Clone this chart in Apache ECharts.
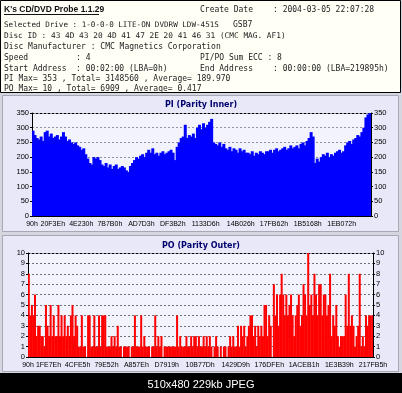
<!DOCTYPE html>
<html><head><meta charset="utf-8">
<script src="https://cdn.jsdelivr.net/npm/echarts@6/dist/echarts.min.js"></script>
<style>html,body{margin:0;padding:0;background:#000}#c{width:402px;height:393px}</style>
</head><body><div id="c"></div>
<script>
// ---- Data ----
const PI_VALUES = [290,275,265,260,270,255,285,290,270,280,265,270,275,260,270,285,270,255,260,250,
245,250,240,235,225,230,210,195,180,175,200,195,200,190,175,170,180,165,175,160,
170,175,160,165,170,165,155,150,170,180,190,200,195,205,210,200,215,225,215,230,
210,215,205,215,220,210,215,220,225,215,190,235,250,265,270,310,265,275,270,280,
265,300,310,295,315,300,310,320,330,250,245,240,250,235,245,230,225,235,220,230,
225,215,230,220,225,215,215,210,220,205,215,210,220,215,210,220,220,225,215,225,
230,220,225,230,235,225,230,240,230,235,240,230,245,250,240,255,265,285,270,180,
195,185,200,210,205,215,200,210,205,215,220,225,215,220,240,250,255,245,260,265,
275,270,285,300,335,345,353];
// LBA tick labels (hex) and the LBA at the right end of the axis
const PI_TICKS = ['90','20F3E','4E230','7B7B0','AD7D3','DF3B2','1133D6','14B026','17FB62','1B5168','1EB072'];
const PI_LBA_END = '219895';
const PI_Y = {min:0, max:350, interval:50};

const PO_VALUES = [8,4,5,4,6,2,3,3,2,2,1,5,3,2,5,2,4,2,2,5,
2,4,2,4,2,3,2,4,5,2,4,3,1,1,4,1,1,0,4,4,
1,1,4,1,1,4,1,4,4,4,1,1,1,2,1,2,1,3,1,1,
0,1,1,1,1,0,1,1,4,1,1,1,4,1,2,1,1,1,0,1,
1,4,1,2,1,2,0,1,1,1,1,1,1,1,1,4,1,2,1,1,
1,2,1,1,2,1,2,2,1,2,1,1,2,1,2,1,2,1,0,1,
2,1,0,1,0,1,1,0,1,2,1,2,1,1,3,1,3,2,3,1,
2,3,4,4,2,3,1,3,2,3,2,5,5,2,4,3,0,7,4,6,
3,6,8,6,4,6,4,5,6,4,2,4,5,6,3,4,7,6,4,10,
5,6,4,8,6,4,7,7,4,6,6,4,5,8,2,4,3,5,2,1,
2,2,2,6,3,8,3,4,3,1,2,3,8,1,2,1,4,3,4,4,4];
const PO_TICKS = ['90','1FE7E','4CFE5','79E52','A857E','D7919','10B77D','1429D9','176DFE','1ACEB1','1E3B39','217FB5'];
const PO_LBA_END = '217FB5';
const PO_Y = {min:0, max:10, interval:1};

const HEADER_TITLE = "K's CD/DVD Probe 1.1.29";
const HEADER_LEFT = [
  'Selected Drive : 1-0-0-0 LITE-ON DVDRW LDW-451S',
  'Disc ID : 43 4D 43 20 4D 41 47 2E 20 41 46 31 (CMC MAG. AF1)',
  'Disc Manufacturer : CMC Magnetics Corporation',
  'Speed',
  'Start Address',
  'PI Max= 353 , Total= 3148560 , Average= 189.970',
  'PO Max= 10 , Total= 6909 , Average= 0.417'
];
const CAPTION = '510x480 229kb JPEG';

// ---- Build ----
const hex = h => parseInt(h, 16);
const idx = n => Array.from({length:n}, (_, i) => String(i));
const AX_FONT = 'Liberation Sans';
const chart = echarts.init(document.getElementById('c'), null, {renderer:'canvas'});

function yAxes(grid, cfg, splitColor){
  const base = {type:'value', gridIndex:grid, min:cfg.min, max:cfg.max, interval:cfg.interval,
    axisLine:{show:true, lineStyle:{color:'#000', width:1}},
    axisTick:{show:true, length:2, lineStyle:{color:'#000'}},
    axisLabel:{fontFamily:AX_FONT, fontSize:7.5, color:'#000', margin:3}};
  return [
    Object.assign({}, base, {position:'left', splitLine:{show:true, lineStyle:{color:splitColor, type:[2,2], width:1}}}),
    Object.assign({}, base, {position:'right', splitLine:{show:false}})
  ];
}
function xAxes(grid, n, ticks, endHex){
  const vals = ticks.map(hex);
  return [
    {type:'category', gridIndex:grid, data:idx(n), position:'bottom', boundaryGap:true,
      axisLine:{show:true, lineStyle:{color:'#000'}}, axisTick:{show:false}, axisLabel:{show:false}},
    {type:'value', gridIndex:grid, position:'bottom', min:0, max:hex(endHex),
      axisLine:{show:false}, axisTick:{show:false}, splitLine:{show:false},
      axisLabel:{customValues:vals, fontFamily:AX_FONT, fontSize:7, color:'#000', margin:5,
        showMinLabel:true, showMaxLabel:true, hideOverlap:false,
        formatter:(v)=> Math.round(v).toString(16).toUpperCase()+'h'}},
    {type:'category', gridIndex:grid, data:idx(n), position:'top', boundaryGap:true,
      axisLine:{show:true, lineStyle:{color:'#000', type:[2,2]}},
      axisTick:{show:false}, axisLabel:{show:false}}
  ];
}

const option = {
  animation:false,
  backgroundColor:'#000',
  grid:[
    {left:32, right:31, top:113, height:103, show:true, backgroundColor:'#f3f3fd', borderWidth:0},
    {left:28, right:29, top:253, height:104, show:true, backgroundColor:'#f3f3fd', borderWidth:0}
  ],
  xAxis: xAxes(0, PI_VALUES.length, PI_TICKS, PI_LBA_END).concat(xAxes(1, PO_VALUES.length, PO_TICKS, PO_LBA_END)),
  yAxis: yAxes(0, PI_Y, '#9090a0').concat(yAxes(1, PO_Y, '#707078')),
  series:[
    {type:'bar', xAxisIndex:0, yAxisIndex:0, data:PI_VALUES, barWidth:3,
      itemStyle:{color:'#0000ff'}, z:2},
    {type:'bar', xAxisIndex:3, yAxisIndex:2, data:PO_VALUES, barWidth:2,
      itemStyle:{color:'#ff0000'}, z:2}
  ],
  graphic:{elements:[
    {type:'rect', z:-10, silent:true, shape:{x:0,y:0,width:402,height:373}, style:{fill:'#d6d6e0'}},
    {type:'rect', z:-9, silent:true, shape:{x:0.5,y:0.5,width:400,height:92}, style:{fill:'#fffff6', stroke:'#000', lineWidth:1}},
    {type:'rect', z:-9, silent:true, shape:{x:2.5,y:95.5,width:396,height:136}, style:{fill:'#e8e8f8', stroke:'#a8a8b4', lineWidth:1}},
    {type:'rect', z:-9, silent:true, shape:{x:2.5,y:235.5,width:396,height:136}, style:{fill:'#e8e8f8', stroke:'#a8a8b4', lineWidth:1}},
    {type:'text', z:5, style:{text:HEADER_TITLE, x:4, y:9.5, font:'bold 8.5px "Liberation Sans"', fill:'#111', textVerticalAlign:'middle'}},
    {type:'line', z:5, shape:{x1:4,y1:14.5,x2:99,y2:14.5}, style:{stroke:'#111', lineWidth:1}},
    {type:'text', z:5, style:{text:'Create Date', x:200, y:9.5, font:'8px "DejaVu Sans Mono"', fill:'#222', textVerticalAlign:'middle'}},
    {type:'text', z:5, style:{text:': 2004-03-05 22:07:28', x:273, y:9.5, font:'8px "DejaVu Sans Mono"', fill:'#222', textVerticalAlign:'middle'}},
    {type:'text', z:5, style:{text:HEADER_LEFT[0], x:4, y:25, font:'7.6px "DejaVu Sans Mono"', fill:'#222', textVerticalAlign:'middle'}},
    {type:'text', z:5, style:{text:'GSB7', x:233, y:25, font:'8px "DejaVu Sans Mono"', fill:'#222', textVerticalAlign:'middle'}},
    {type:'text', z:5, style:{text:HEADER_LEFT[1], x:4, y:36, font:'7.8px "DejaVu Sans Mono"', fill:'#222', textVerticalAlign:'middle'}},
    {type:'text', z:5, style:{text:HEADER_LEFT[2], x:4, y:47, font:'8px "DejaVu Sans Mono"', fill:'#222', textVerticalAlign:'middle'}},
    {type:'text', z:5, style:{text:HEADER_LEFT[3], x:4, y:58, font:'8px "DejaVu Sans Mono"', fill:'#222', textVerticalAlign:'middle'}},
    {type:'text', z:5, style:{text:': 4', x:76, y:58, font:'8px "DejaVu Sans Mono"', fill:'#222', textVerticalAlign:'middle'}},
    {type:'text', z:5, style:{text:'PI/PO Sum ECC : 8', x:200, y:58, font:'8px "DejaVu Sans Mono"', fill:'#222', textVerticalAlign:'middle'}},
    {type:'text', z:5, style:{text:HEADER_LEFT[4], x:4, y:68.5, font:'8px "DejaVu Sans Mono"', fill:'#222', textVerticalAlign:'middle'}},
    {type:'text', z:5, style:{text:': 00:02:00 (LBA=0h)', x:76, y:68.5, font:'8px "DejaVu Sans Mono"', fill:'#222', textVerticalAlign:'middle'}},
    {type:'text', z:5, style:{text:'End Address', x:200, y:68.5, font:'8px "DejaVu Sans Mono"', fill:'#222', textVerticalAlign:'middle'}},
    {type:'text', z:5, style:{text:': 00:00:00 (LBA=219895h)', x:273, y:68.5, font:'8px "DejaVu Sans Mono"', fill:'#222', textVerticalAlign:'middle'}},
    {type:'text', z:5, style:{text:HEADER_LEFT[5], x:4, y:79, font:'8px "DejaVu Sans Mono"', fill:'#222', textVerticalAlign:'middle'}},
    {type:'text', z:5, style:{text:HEADER_LEFT[6], x:4, y:89, font:'8px "DejaVu Sans Mono"', fill:'#222', textVerticalAlign:'middle'}},
    {type:'text', z:5, style:{text:'PI (Parity Inner)', x:201, y:105, font:'bold 8px "DejaVu Sans"', fill:'#00006e', textAlign:'center', textVerticalAlign:'middle'}},
    {type:'text', z:5, style:{text:'PO (Parity Outer)', x:201, y:245.5, font:'bold 8px "DejaVu Sans"', fill:'#00006e', textAlign:'center', textVerticalAlign:'middle'}},
    {type:'text', z:5, style:{text:CAPTION, x:201, y:384.5, font:'11px "Liberation Sans"', fill:'#fff', textAlign:'center', textVerticalAlign:'middle'}}
  ]}
};
chart.setOption(option);
</script></body></html>
